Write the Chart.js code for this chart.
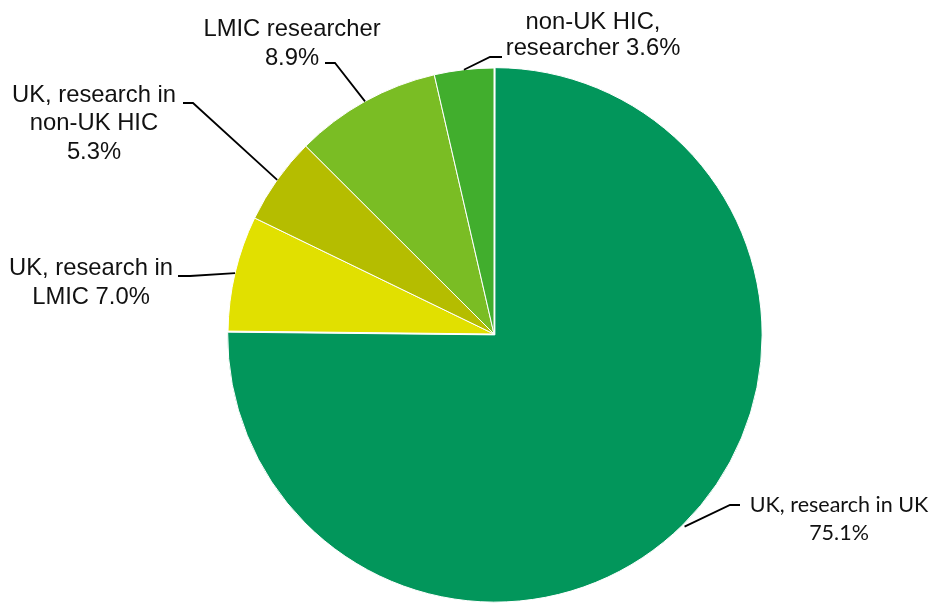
<!DOCTYPE html>
<html><head><meta charset="utf-8">
<script src="https://cdn.jsdelivr.net/npm/chart.js@4"></script>
<style>html,body{margin:0;padding:0;background:#fff;overflow:hidden}#wrap{width:935px;height:603px}</style>
</head><body><div id="wrap"><canvas id="c" width="935" height="603"></canvas></div>
<script>
const categories = ['UK, research in UK', 'UK, research in LMIC', 'UK, research in non-UK HIC', 'LMIC researcher', 'non-UK HIC, researcher'];
const values = [75.1, 7.0, 5.3, 8.9, 3.6];
const labelTemplates = [
  ['UK, research in UK', '{v}'],
  ['UK, research in', 'LMIC {v}'],
  ['UK, research in', 'non-UK HIC', '{v}'],
  ['LMIC researcher', '{v}'],
  ['non-UK HIC,', 'researcher {v}']
];
const colors = ['#02965B', '#E1E000', '#B5BD00', '#7ABD24', '#41AE2D'];
const offsets = [5, 0, 0, 0, 0];

// label layout (positions/styles only)
const ARIAL = '23.8px "Liberation Sans", Arial, sans-serif';
const labelLayout = [
  {cx: 839, y0: 505, lh: 28, font: '21.5px Lato, Carlito, "Open Sans", sans-serif', sx: 740, sy: 505, kx: 730},
  {cx: 91, y0: 268, lh: 29, font: ARIAL, sx: 178, sy: 276, kx: 190},
  {cx: 94, y0: 95, lh: 28.5, font: ARIAL, sx: 183, sy: 103, kx: 193},
  {cx: 292, y0: 29, lh: 29, font: ARIAL, sx: 325, sy: 63, kx: 335},
  {cx: 593, y0: 22, lh: 26, font: ARIAL, sx: 502, sy: 57, kx: 490}
];

const leaderPlugin = {
  id: 'leaders',
  afterDatasetsDraw(chart) {
    const ctx = chart.ctx;
    const meta = chart.getDatasetMeta(0);
    meta.data.forEach((arc, i) => {
      const p = arc.getProps(['x', 'y', 'startAngle', 'endAngle', 'outerRadius'], true);
      const mid = (p.startAngle + p.endAngle) / 2;
      const off = offsets[i] || 0;
      const cx = p.x + Math.cos(mid) * off;
      const cy = p.y + Math.sin(mid) * off;
      const ex = cx + Math.cos(mid) * p.outerRadius;
      const ey = cy + Math.sin(mid) * p.outerRadius;
      const L = labelLayout[i];
      ctx.save();
      ctx.strokeStyle = '#000';
      ctx.lineWidth = 1.8;
      ctx.beginPath();
      ctx.moveTo(L.sx, L.sy);
      ctx.lineTo(L.kx, L.sy);
      ctx.lineTo(ex, ey);
      ctx.stroke();
      ctx.fillStyle = '#111';
      ctx.font = L.font;
      ctx.textAlign = 'center';
      ctx.textBaseline = 'middle';
      const v = values[i].toFixed(1) + '%';
      labelTemplates[i].forEach((t, j) => {
        ctx.fillText(t.replace('{v}', v), L.cx, L.y0 + j * L.lh);
      });
      ctx.restore();
    });
  }
};

new Chart(document.getElementById('c'), {
  type: 'pie',
  data: {
    labels: categories,
    datasets: [{
      data: values,
      backgroundColor: colors,
      borderColor: '#ffffff',
      borderWidth: 1,
      offset: offsets,
      clip: false
    }]
  },
  options: {
    responsive: false,
    animation: false,
    radius: 266,
    layout: {padding: {left: 53, right: 0, top: 65, bottom: 0}},
    plugins: {legend: {display: false}, tooltip: {enabled: false}}
  },
  plugins: [leaderPlugin]
});
</script>
</body></html>
